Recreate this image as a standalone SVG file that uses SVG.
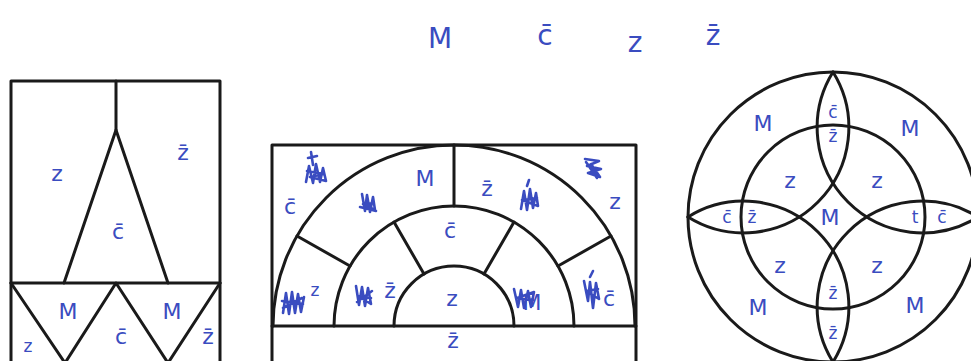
<svg xmlns="http://www.w3.org/2000/svg" width="971" height="361" viewBox="0 0 971 361">
<style>
.ln{fill:none;stroke:#1a1a1a;stroke-width:3;stroke-linejoin:round;stroke-linecap:round}
.t{fill:#3a4cc0;font-family:"DejaVu Sans","Liberation Sans",sans-serif;font-size:22px;text-anchor:middle;dominant-baseline:central}
.s{font-size:17px}
.b{font-size:28px}
.sc{fill:none;stroke:#3a4cc0;stroke-width:2.6;stroke-linejoin:round;stroke-linecap:round}
</style>
<rect width="971" height="361" fill="#fff"/>

<g id="legend">
<text class="t b" x="440" y="38">M</text>
<text class="t b" x="545" y="35">c̄</text>
<text class="t b" x="635" y="42">z</text>
<text class="t b" x="713" y="35">z̄</text>
</g>

<g id="left-figure">
<path class="ln" d="M11,365 V81 H220 V365"/>
<path class="ln" d="M116,81 V130"/>
<path class="ln" d="M64,283 L116,130 L168,283"/>
<path class="ln" d="M11,283 H220"/>
<path class="ln" d="M11,283 L65,363 L116,283 L168,363 L220,283"/>
<text class="t" x="57" y="173">z</text>
<text class="t" x="183" y="152">z̄</text>
<text class="t" x="118" y="231">c̄</text>
<text class="t" x="68" y="311">M</text>
<text class="t" x="172" y="311">M</text>
<text class="t" x="121" y="336">c̄</text>
<text class="t s" x="28" y="346">z</text>
<text class="t" x="208" y="336">z̄</text>
</g>

<g id="middle-figure">
<path class="ln" d="M272,365 V145 H636 V365"/>
<path class="ln" d="M272,326 H636"/>
<path class="ln" d="M273,326 A181,181 0 0 1 635,326"/>
<path class="ln" d="M334,326 A120,120 0 0 1 574,326"/>
<path class="ln" d="M394,326 A60,60 0 0 1 514,326"/>
<path class="ln" d="M454,145 V206"/>
<path class="ln" d="M297,236 L350,266 M611,236 L558,266"/>
<path class="ln" d="M394,222 L424,274 M514,222 L484,274"/>
<text class="t" x="290" y="206">c̄</text>
<text class="t" x="425" y="178">M</text>
<text class="t" x="487" y="188">z̄</text>
<text class="t" x="615" y="201">z</text>
<text class="t" x="450" y="230">c̄</text>
<text class="t s" x="315" y="290">z</text>
<text class="t" x="390" y="290">z̄</text>
<text class="t" x="452" y="298">z</text>
<text class="t" x="532" y="302">M</text>
<text class="t" x="609" y="298">c̄</text>
<text class="t" x="453" y="340">z̄</text>
<path class="sc" d="M306,182 L309,166 L313,183 L316,164 L320,182 L323,168 L326,181 L310,177 L324,174 L307,171 M313,165 L311,152 M308,158 L317,156"/>
<path class="sc" d="M362,194 L365,211 L367,195 L370,212 L373,197 L375,210 L363,204 L374,203 M360,207 L376,211"/>
<path class="sc" d="M521,209 L524,191 L527,210 L530,189 L533,208 L536,193 L538,206 L522,200 L537,198 M527,186 L529,180"/>
<path class="sc" d="M585,159 L599,161 L587,166 L601,169 L588,173 L600,177 L591,164 L597,178 L586,162"/>
<path class="sc" d="M283,313 L286,293 L289,314 L292,292 L295,313 L298,294 L301,312 L304,297 M282,301 L303,304 M283,308 L302,298"/>
<path class="sc" d="M356,286 L359,305 L362,287 L365,306 L368,288 L371,304 L358,296 L371,298 M357,302 L372,291"/>
<path class="sc" d="M514,289 L518,307 L521,290 L524,308 L528,291 L531,307 L534,292 L517,298 L533,300"/>
<path class="sc" d="M584,281 L588,301 L590,282 L593,308 L596,283 L599,299 L586,291 L598,289 M590,277 L593,271"/>
</g>

<g id="right-figure">
<circle class="ln" cx="833" cy="217" r="145"/>
<circle class="ln" cx="833" cy="217" r="92"/>
<path class="ln" d="M833,72 A105.3,105.3 0 0 1 688,217"/>
<path class="ln" d="M833,72 A105.3,105.3 0 0 0 978,217"/>
<path class="ln" d="M833,362 A105.3,105.3 0 0 0 688,217"/>
<path class="ln" d="M833,362 A105.3,105.3 0 0 1 978,217"/>
<text class="t" x="763" y="123">M</text>
<text class="t" x="910" y="128">M</text>
<text class="t s" x="833" y="112">c̄</text>
<text class="t s" x="833" y="136">z̄</text>
<text class="t" x="790" y="180">z</text>
<text class="t" x="877" y="180">z</text>
<text class="t s" x="727" y="217">c̄</text>
<text class="t s" x="752" y="217">z̄</text>
<text class="t" x="830" y="217">M</text>
<text class="t s" x="915" y="217">t</text>
<text class="t s" x="942" y="217">c̄</text>
<text class="t" x="780" y="265">z</text>
<text class="t" x="877" y="265">z</text>
<text class="t s" x="833" y="293">z̄</text>
<text class="t s" x="833" y="333">z̄</text>
<text class="t" x="758" y="307">M</text>
<text class="t" x="915" y="305">M</text>
</g>
</svg>
